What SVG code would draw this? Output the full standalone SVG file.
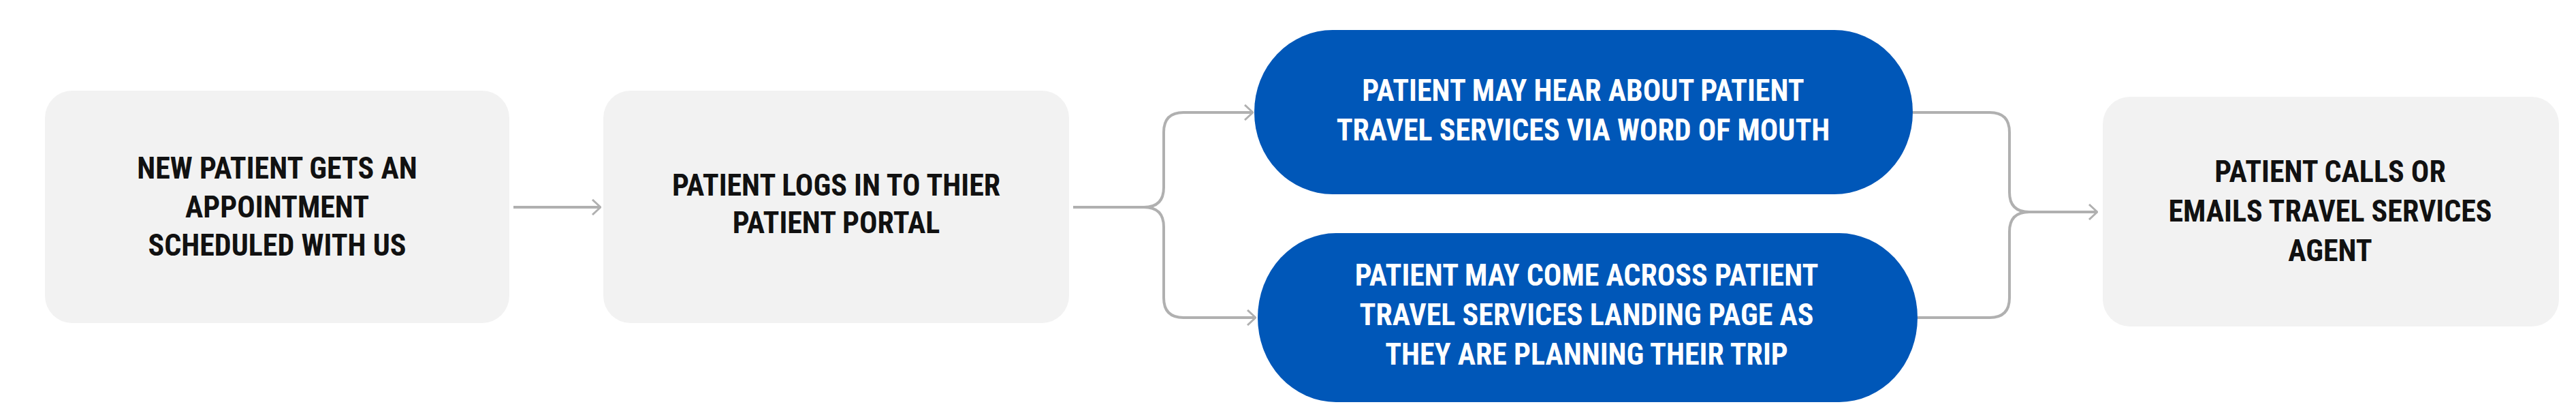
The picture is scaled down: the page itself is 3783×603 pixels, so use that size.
<svg xmlns="http://www.w3.org/2000/svg" width="3783" height="603" viewBox="0 0 3783 603">
<style>
.g{fill:#f2f2f2}
.b{fill:#0057b8}
text{font-family:"Liberation Sans Narrow","Roboto Condensed","Liberation Sans",sans-serif;font-weight:700;font-size:44px;text-anchor:middle}
.d{fill:#111}
.w{fill:#fff}
.c{fill:none;stroke:#b0b0b0;stroke-width:4}
</style>
<defs><marker id="a" markerWidth="14" markerHeight="24" refX="13" refY="12" orient="auto" markerUnits="userSpaceOnUse"><path d="M1,1 L13,12 L1,23" fill="none" stroke="#b0b0b0" stroke-width="3"/></marker></defs>
<rect width="3783" height="603" fill="#fff"/>
<g id="connectors" class="c">
<path d="M754,304 H882" marker-end="url(#a)"/>
<path d="M1576,304 H1680 Q1709,304 1709,275 V194 Q1709,165 1738,165 H1840" marker-end="url(#a)"/>
<path d="M1680,304 Q1709,304 1709,333 V437 Q1709,466 1738,466 H1844" marker-end="url(#a)"/>
<path d="M2809,165 H2922 Q2951,165 2951,194 V282 Q2951,311 2980,311 H3080" marker-end="url(#a)"/>
<path d="M2816,466 H2922 Q2951,466 2951,437 V340 Q2951,311 2980,311"/>
</g>
<g id="n1"><rect class="g" x="66" y="133" width="682" height="341" rx="40"/>
<text class="d" x="407" y="262">NEW PATIENT GETS AN</text><text class="d" x="407" y="319">APPOINTMENT</text><text class="d" x="407" y="375">SCHEDULED WITH US</text></g>
<g id="n2"><rect class="g" x="886" y="133" width="684" height="341" rx="40"/>
<text class="d" x="1228" y="287">PATIENT LOGS IN TO THIER</text><text class="d" x="1228" y="342">PATIENT PORTAL</text></g>
<g id="n3"><rect class="b" x="1842" y="44" width="967" height="241" rx="115" ry="120"/>
<text class="w" x="2325" y="148">PATIENT MAY HEAR ABOUT  PATIENT</text><text class="w" x="2325" y="206">TRAVEL SERVICES VIA WORD OF MOUTH</text></g>
<g id="n4"><rect class="b" x="1847" y="342" width="969" height="248" rx="115" ry="124"/>
<text class="w" x="2330" y="419">PATIENT MAY COME ACROSS PATIENT</text><text class="w" x="2330" y="477">TRAVEL SERVICES LANDING PAGE AS</text><text class="w" x="2330" y="535">THEY ARE PLANNING THEIR TRIP</text></g>
<g id="n5"><rect class="g" x="3088" y="142" width="670" height="337" rx="40"/>
<text class="d" x="3422" y="267">PATIENT CALLS OR</text><text class="d" x="3422" y="325">EMAILS TRAVEL SERVICES</text><text class="d" x="3422" y="383">AGENT</text></g>
</svg>
